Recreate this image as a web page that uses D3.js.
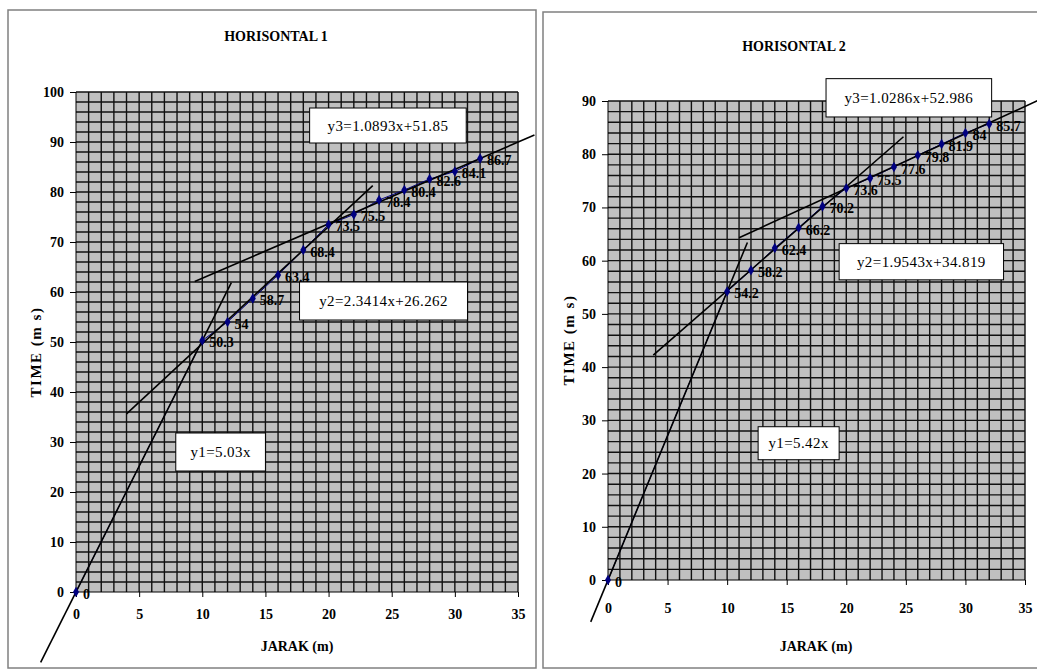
<!DOCTYPE html>
<html>
<head>
<meta charset="utf-8">
<script src="https://cdn.jsdelivr.net/npm/d3@7"></script>
<style>
  body { margin: 0; background: #fff; }
  svg { display: block; font-family: "Liberation Serif", "Times New Roman", serif; }
  .tick text { font-weight: bold; font-size: 14px; fill: #000; font-family: "Liberation Serif", serif; }
  .title, .axis-label, .point-label { font-weight: bold; font-size: 14px; fill: #000; }
  .y-label { font-weight: bold; font-size: 15px; letter-spacing: 1.5px; fill: #000; }
  .eq-text { font-size: 15px; letter-spacing: 0.4px; fill: #000; }
</style>
</head>
<body>
<div id="chart"></div>
<script>
// --------------------------------------
//  Data
// --------------------------------------

const jarak = [0, 10, 12, 14, 16, 18, 20, 22, 24, 26, 28, 30, 32];
const time1 = [0, 50.3, 54, 58.7, 63.4, 68.4, 73.5, 75.5, 78.4, 80.4, 82.6, 84.1, 86.7];
const time2 = [0, 54.2, 58.2, 62.4, 66.2, 70.2, 73.6, 75.5, 77.6, 79.8, 81.9, 84, 85.7];

const xTicks = [0, 5, 10, 15, 20, 25, 30, 35];
const yTicks1 = [0, 10, 20, 30, 40, 50, 60, 70, 80, 90, 100];
const yTicks2 = [0, 10, 20, 30, 40, 50, 60, 70, 80, 90];

// trend lines: slope, intercept, x range as drawn
const trends1 = [
  { name: "y1", slope: 5.03, intercept: 0, x0: -2.8, x1: 12.3 },
  { name: "y2", slope: 2.3414, intercept: 26.262, x0: 4.0, x1: 23.5 },
  { name: "y3", slope: 1.0893, intercept: 51.85, x0: 9.4, x1: 36.3 }
];
const trends2 = [
  { name: "y1", slope: 5.42, intercept: 0, x0: -1.45, x1: 11.7 },
  { name: "y2", slope: 1.9543, intercept: 34.819, x0: 3.8, x1: 24.8 },
  { name: "y3", slope: 1.0286, intercept: 52.986, x0: 11.0, x1: 38 }
];

const labels1 = ["y1=5.03x", "y2=2.3414x+26.262", "y3=1.0893x+51.85"];
const labels2 = ["y1=5.42x", "y2=1.9543x+34.819", "y3=1.0286x+52.986"];

// --------------------------------------
//  Canvas
// --------------------------------------

const width = 1037;
const height = 671;

const svg = d3
  .select("#chart")
  .append("svg")
  .attr("width", width)
  .attr("height", height)
  .attr("viewBox", [0, 0, width, height]);

const panels = [
  {
    title: "HORISONTAL 1",
    frame: { x: 8, y: 10, w: 528, h: 658 },
    xRange: [76, 518], yRange: [592, 92], yMax: 100,
    yTicks: yTicks1, values: time1, trends: trends1, eqs: labels1,
    // equation boxes in data units [x0, x1, yTop, yBottom]
    boxes: [[7.9, 15.0, 31.8, 24.2], [17.7, 31.0, 62, 54.4], [18.5, 30.9, 96.8, 89.8]],
    titleY: 36, xPad: 12, xLabel: [297, 646], yLabel: [36, 352]
  },
  {
    title: "HORISONTAL 2",
    frame: { x: 543, y: 12, w: 520, h: 656 },
    xRange: [608, 1025], yRange: [580, 101], yMax: 90,
    yTicks: yTicks2, values: time2, trends: trends2, eqs: labels2,
    boxes: [[12.6, 19.4, 28.8, 22.6], [19.4, 33.2, 63.2, 56.4], [18.3, 32.2, 94.2, 87.0]],
    titleY: 46, xPad: 18, xLabel: [816, 646], yLabel: [569, 340]
  }
];

panels.forEach(drawPanel);

function drawPanel(p) {
  const g = svg.append("g");

  g.append("rect")
    .attr("x", p.frame.x)
    .attr("y", p.frame.y)
    .attr("width", p.frame.w)
    .attr("height", p.frame.h)
    .attr("fill", "#fff")
    .attr("stroke", "#808080")
    .attr("stroke-width", 1.5);

  const x = d3.scaleLinear([0, 35], p.xRange);
  const y = d3.scaleLinear([0, p.yMax], p.yRange);

  // plot area + grid
  g.append("rect")
    .attr("x", x(0))
    .attr("y", y(p.yMax))
    .attr("width", x(35) - x(0))
    .attr("height", y(0) - y(p.yMax))
    .attr("fill", "#c0c0c0");

  g.append("g")
    .selectAll("line")
    .data(d3.range(1, 36))
    .join("line")
    .attr("x1", d => x(d)).attr("x2", d => x(d))
    .attr("y1", y(0)).attr("y2", y(p.yMax))
    .attr("stroke", "#111")
    .attr("stroke-width", 1.4);

  g.append("g")
    .selectAll("line")
    .data(d3.range(2, p.yMax + 1, 2))
    .join("line")
    .attr("x1", x(0)).attr("x2", x(35))
    .attr("y1", d => y(d)).attr("y2", d => y(d))
    .attr("stroke", "#111")
    .attr("stroke-width", 1.4);

  // axes
  g.append("g")
    .attr("transform", `translate(${x(0)},0)`)
    .call(d3.axisLeft(y).tickValues(p.yTicks).tickSize(6).tickPadding(6))
    .call(a => a.selectAll("line, path").attr("stroke", "#000"))
    .call(a => a.select(".domain").attr("d", `M0,${y(0)}V${y(p.yMax)}`));

  g.append("g")
    .attr("transform", `translate(0,${y(0)})`)
    .call(d3.axisBottom(x).tickValues(xTicks).tickSize(5).tickPadding(p.xPad))
    .call(a => a.selectAll("line, path").attr("stroke", "#000"))
    .call(a => a.select(".domain").attr("d", `M${x(0)},0H${x(35)}`));

  // titles
  g.append("text")
    .attr("class", "title")
    .attr("x", (p.frame.x + Math.min(p.frame.x + p.frame.w, width)) / 2 + 4)
    .attr("y", p.titleY)
    .attr("text-anchor", "middle")
    .attr("dy", "0.35em")
    .text(p.title);

  g.append("text")
    .attr("class", "axis-label")
    .attr("x", p.xLabel[0])
    .attr("y", p.xLabel[1])
    .attr("text-anchor", "middle")
    .attr("dy", "0.35em")
    .text("JARAK (m)");

  g.append("text")
    .attr("class", "y-label")
    .attr("transform", `translate(${p.yLabel[0]},${p.yLabel[1]}) rotate(-90)`)
    .attr("text-anchor", "middle")
    .attr("dy", "0.35em")
    .text("TIME (m s)");

  // series
  const pts = jarak.map((d, i) => ({ x: d, y: p.values[i] }));

  g.append("path")
    .datum(pts)
    .attr("fill", "none")
    .attr("stroke", "#000080")
    .attr("stroke-width", 1)
    .attr("d", d3.line().x(d => x(d.x)).y(d => y(d.y)));

  // trend lines
  g.append("g")
    .selectAll("line")
    .data(p.trends)
    .join("line")
    .attr("x1", d => x(d.x0))
    .attr("y1", d => y(d.slope * d.x0 + d.intercept))
    .attr("x2", d => x(d.x1))
    .attr("y2", d => y(d.slope * d.x1 + d.intercept))
    .attr("stroke", "#000")
    .attr("stroke-width", 1.6);

  g.append("g")
    .selectAll("path")
    .data(pts)
    .join("path")
    .attr("transform", d => `translate(${x(d.x)},${y(d.y)})`)
    .attr("d", d3.symbol(d3.symbolDiamond, 32))
    .attr("fill", "#000080");

  g.append("g")
    .selectAll("text")
    .data(pts)
    .join("text")
    .attr("class", "point-label")
    .attr("x", d => x(d.x) + 7)
    .attr("y", d => y(d.y) + 2)
    .attr("dy", "0.35em")
    .text(d => d.y);

  // equation boxes
  const boxes = g.append("g")
    .selectAll("g")
    .data(p.boxes.map((b, i) => ({ b, text: p.eqs[i] })))
    .join("g");

  boxes.append("rect")
    .attr("x", d => x(d.b[0]))
    .attr("y", d => y(d.b[2]))
    .attr("width", d => x(d.b[1]) - x(d.b[0]))
    .attr("height", d => y(d.b[3]) - y(d.b[2]))
    .attr("fill", "#fff")
    .attr("stroke", "#000")
    .attr("stroke-width", 1);

  boxes.append("text")
    .attr("class", "eq-text")
    .attr("x", d => (x(d.b[0]) + x(d.b[1])) / 2)
    .attr("y", d => (y(d.b[2]) + y(d.b[3])) / 2)
    .attr("text-anchor", "middle")
    .attr("dy", "0.35em")
    .text(d => d.text);
}
</script>
</body>
</html>
